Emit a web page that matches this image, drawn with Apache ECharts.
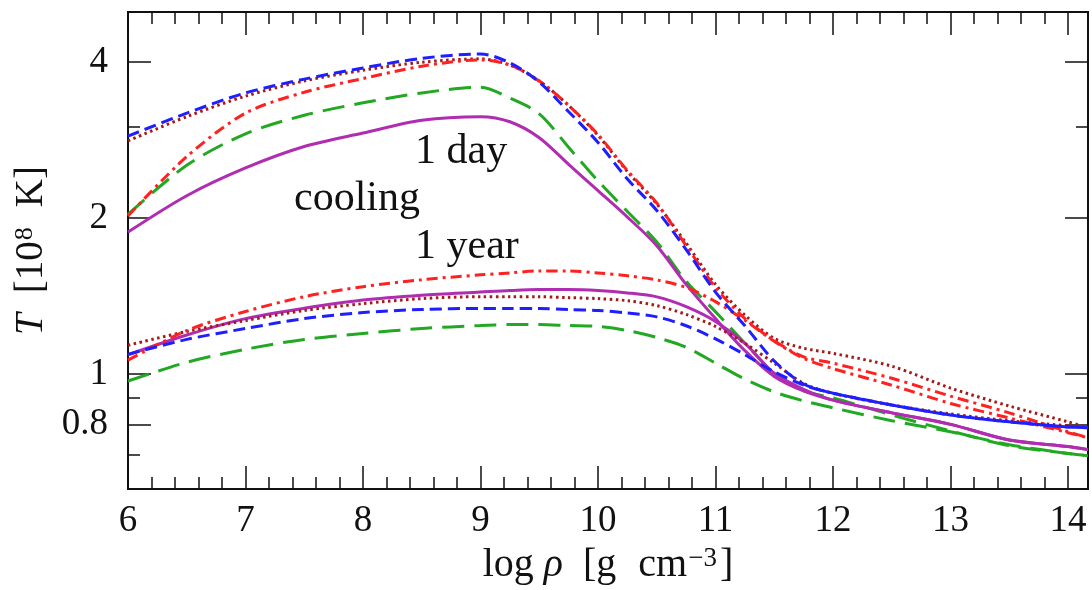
<!DOCTYPE html>
<html><head><meta charset="utf-8">
<script src="https://cdn.jsdelivr.net/npm/echarts@6/dist/echarts.min.js"></script>
<style>html,body{margin:0;padding:0;background:#fff}#c{width:1092px;height:590px}</style>
</head><body><div id="c"></div>
<script>
// x values: log rho [g cm^-3]
const logRho = [6.0,6.5,7.0,7.5,8.0,8.5,9.0,9.25,9.5,9.75,10.0,10.25,10.5,10.75,11.0,11.25,11.5,11.75,12.0,12.5,13.0,13.5,14.0,14.17];
// T [1e8 K], 1 day after outburst
const magentaDay = [1.88,2.21,2.50,2.75,2.92,3.09,3.14,3.07,2.86,2.54,2.26,2.01,1.77,1.49,1.28,1.11,0.99,0.928,0.891,0.842,0.80,0.746,0.725,0.715];
const greenDay   = [2.035,2.53,2.91,3.16,3.34,3.49,3.58,3.41,3.18,2.74,2.36,2.06,1.80,1.51,1.32,1.147,1.004,0.928,0.90,0.834,0.777,0.728,0.703,0.696];
const blueDay    = [2.88,3.19,3.49,3.71,3.90,4.07,4.15,3.99,3.66,3.21,2.80,2.38,2.07,1.74,1.44,1.24,1.06,0.957,0.919,0.872,0.834,0.809,0.791,0.788];
const dashDay    = [2.02,2.63,3.19,3.50,3.72,3.93,4.04,3.95,3.68,3.30,2.90,2.47,2.14,1.77,1.47,1.28,1.16,1.08,1.05,0.982,0.907,0.842,0.774,0.754];
const dotDay     = [2.82,3.14,3.44,3.68,3.86,4.00,4.06,3.95,3.68,3.30,2.89,2.46,2.13,1.79,1.49,1.30,1.172,1.122,1.097,1.036,0.94,0.868,0.809,0.788];
// T [1e8 K], 1 year after outburst
const magentaYear = [1.09,1.19,1.28,1.34,1.39,1.42,1.44,1.45,1.456,1.456,1.45,1.435,1.41,1.35,1.264,1.147,1.004,0.935,0.891,0.842,0.80,0.746,0.725,0.715];
const greenYear   = [0.97,1.054,1.117,1.167,1.198,1.225,1.241,1.247,1.247,1.241,1.236,1.214,1.177,1.127,1.05,0.978,0.924,0.888,0.861,0.813,0.774,0.731,0.703,0.696];
const blueYear    = [1.092,1.167,1.225,1.28,1.315,1.333,1.339,1.339,1.339,1.333,1.327,1.312,1.29,1.24,1.17,1.09,1.01,0.953,0.919,0.872,0.834,0.809,0.791,0.788];
const dashYear    = [1.064,1.214,1.321,1.411,1.475,1.521,1.555,1.568,1.582,1.582,1.568,1.548,1.52,1.47,1.38,1.27,1.157,1.073,1.025,0.952,0.878,0.823,0.771,0.754];
const dotYear     = [1.137,1.209,1.269,1.327,1.368,1.399,1.411,1.411,1.411,1.405,1.399,1.386,1.356,1.304,1.236,1.147,1.05,0.96,0.918,0.872,0.838,0.813,0.795,0.788];

// tick labels
const xMajor = [6,7,8,9,10,11,12,13,14];
const yMajor = [0.8,1,2,4];
const yMinor = [0.7,0.9,3];
const xMinor = [];
for (let i = 0; i < 42; i++) { const v = +(6 + i * 0.2).toFixed(1); if (v <= 14.17 && Math.abs(v - Math.round(v)) > 1e-6) xMinor.push(v); }

const annotations = ['1 day', 'cooling', '1 year'];

const FONT = 'Liberation Serif';
const INK = '#111';

function pairs(ys) { return logRho.map((x, i) => [x, ys[i]]); }

function xAx(pos, vals, len, withLabels) {
  const a = {
    type: 'value', position: pos, min: 6, max: 14.17,
    axisLine: {show: true, onZero: false, lineStyle: {color: INK, width: 2}},
    axisTick: {show: true, inside: true, length: len, customValues: vals, lineStyle: {color: INK, width: 1.5}},
    axisLabel: {show: false},
    splitLine: {show: false}
  };
  if (withLabels) {
    a.axisLabel = {show: true, customValues: vals, margin: 14, fontFamily: FONT, fontSize: 37, color: INK};
    a.name = 'log{i|ρ}[g{c|cm}{s|−3}]';
    a.nameLocation = 'middle';
    a.nameGap = 52;
    a.nameTextStyle = {fontFamily: FONT, fontSize: 40, color: INK,
      rich: {i: {fontFamily: FONT, fontStyle: 'italic', fontSize: 40, color: INK, padding: [0, 20, 0, 10]},
             c: {fontFamily: FONT, fontSize: 40, color: INK, padding: [0, 0, 0, 22]},
             s: {fontFamily: FONT, fontSize: 27, color: INK, verticalAlign: 'top', padding: [0, 3, 0, 1]}}};
  }
  return a;
}
function yAx(pos, vals, len, withLabels) {
  const a = {
    type: 'log', logBase: 10, position: pos, min: 0.6, max: 5,
    axisLine: {show: true, onZero: false, lineStyle: {color: INK, width: 2}},
    axisTick: {show: true, inside: true, length: len, customValues: vals, lineStyle: {color: INK, width: 1.5}},
    axisLabel: {show: false},
    splitLine: {show: false}, minorSplitLine: {show: false}
  };
  if (withLabels) {
    a.axisLabel = {show: true, customValues: vals, margin: 20, fontFamily: FONT, fontSize: 37, color: INK,
      formatter: v => String(+(+v).toFixed(2))};
    a.name = '{i|T}[10{s|8}{k|K}]';
    a.nameLocation = 'middle';
    a.nameGap = 76;
    a.nameRotate = 90;
    a.nameTextStyle = {fontFamily: FONT, fontSize: 39, color: INK,
      rich: {i: {fontFamily: FONT, fontStyle: 'italic', fontSize: 39, color: INK, padding: [0, 20, 0, 0]},
             k: {fontFamily: FONT, fontSize: 39, color: INK, padding: [0, 0, 0, 20]},
             s: {fontFamily: FONT, fontSize: 26, color: INK, verticalAlign: 'top', padding: [0, 0, 0, 1]}}};
  }
  return a;
}

const styles = {
  green:   {color: '#22a822', width: 3, type: [22, 10]},
  magenta: {color: '#b02cb0', width: 3, type: 'solid'},
  dot:     {color: '#a31a1a', width: 3, type: [2.5, 3.5]},
  dash:    {color: '#ff2020', width: 3, type: [11, 5, 3, 5]},
  blue:    {color: '#1e1eff', width: 3, type: [12, 6]}
};
function ser(name, ys, st) {
  return {name, type: 'line', data: pairs(ys), smooth: 0.3, showSymbol: false, symbol: 'none',
    lineStyle: {color: st.color, width: st.width, type: st.type, cap: 'butt'}, z: 3, silent: true, animation: false};
}

const chart = echarts.init(document.getElementById('c'));
const TF = '42px "Liberation Serif"';
chart.setOption({
  animation: false,
  backgroundColor: '#fff',
  grid: {left: 128, right: 4, top: 12, bottom: 98, containLabel: false},
  xAxis: [
    xAx('bottom', xMajor, 23, true),
    xAx('bottom', xMinor, 12, false),
    xAx('top', xMajor, 23, false),
    xAx('top', xMinor, 12, false)
  ],
  yAxis: [
    yAx('left', yMajor, 23, true),
    yAx('left', yMinor, 12, false),
    yAx('right', yMajor, 23, false),
    yAx('right', yMinor, 12, false)
  ],
  series: [
    ser('green 1 day', greenDay, styles.green),
    ser('green 1 year', greenYear, styles.green),
    ser('magenta 1 day', magentaDay, styles.magenta),
    ser('magenta 1 year', magentaYear, styles.magenta),
    ser('dotted 1 day', dotDay, styles.dot),
    ser('dotted 1 year', dotYear, styles.dot),
    ser('dash-dot 1 day', dashDay, styles.dash),
    ser('dash-dot 1 year', dashYear, styles.dash),
    ser('blue 1 day', blueDay, styles.blue),
    ser('blue 1 year', blueYear, styles.blue)
  ],
  graphic: [
    {type: 'text', x: 415, y: 152, style: {text: annotations[0], font: TF, fill: INK, verticalAlign: 'middle'}},
    {type: 'text', x: 294, y: 199, style: {text: annotations[1], font: TF, fill: INK, verticalAlign: 'middle'}},
    {type: 'text', x: 415, y: 247, style: {text: annotations[2], font: TF, fill: INK, verticalAlign: 'middle'}}
  ]
});
</script>
</body></html>
